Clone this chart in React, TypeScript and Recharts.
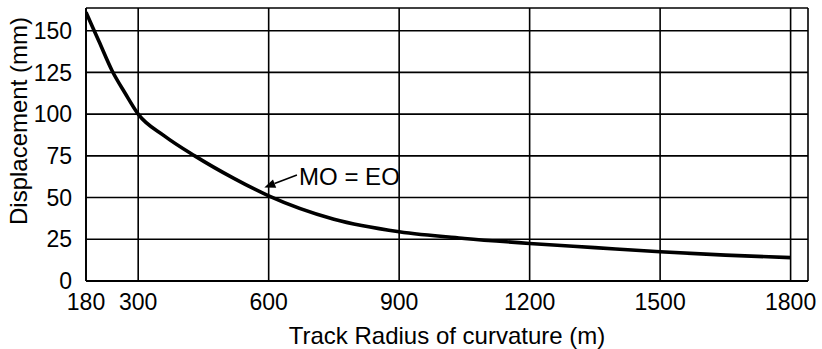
import React from 'react';
import {
  LineChart,
  Line,
  XAxis,
  YAxis,
  CartesianGrid,
  ReferenceLine,
  ReferenceDot,
} from 'recharts';

// ---- data ----
const radius = [180, 210, 240, 270, 300, 360, 430, 520, 600, 750, 900, 1050, 1200, 1350, 1500, 1650, 1800];
const displacement = [161, 143.5, 126, 112.5, 100, 87, 75, 61.5, 51, 37, 29.5, 25.5, 22.5, 20, 17.5, 15.5, 14];

const xTicks = [180, 300, 600, 900, 1200, 1500, 1800];
const yTicks = [0, 25, 50, 75, 100, 125, 150];
const xDomain = [180, 1840];
const yDomain = [0, 163.6];

const xTitle = 'Track Radius of curvature (m)';
const yTitle = 'Displacement (mm)';
const annotationText = 'MO = EO';
const arrowTail = { x: 665, y: 63.5 };
const arrowTip = { x: 590, y: 56 };
const annotationAnchor = { x: 670, y: 62.7 };

const data = radius.map((r, i) => ({ r, d: displacement[i] }));

const FONT = '"Liberation Sans", Arial, Helvetica, sans-serif';

const ArrowShape = (props: any) => {
  const { x1, y1, x2, y2 } = props;
  const dx = x2 - x1;
  const dy = y2 - y1;
  const len = Math.sqrt(dx * dx + dy * dy) || 1;
  const ux = dx / len;
  const uy = dy / len;
  const L = 11;
  const W = 4.5;
  const bx = x2 - ux * L;
  const by = y2 - uy * L;
  const nx = -uy;
  const ny = ux;
  return (
    <g>
      <line x1={x1} y1={y1} x2={bx} y2={by} stroke="#000" strokeWidth={1.6} />
      <polygon
        points={`${x2},${y2} ${bx + nx * W},${by + ny * W} ${bx - nx * W},${by - ny * W}`}
        fill="#000"
      />
    </g>
  );
};

const AnnotationText = (props: any) => (
  <text
    x={props.cx}
    y={props.cy}
    fontFamily={FONT}
    fontSize={24}
    fill="#000"
    dominantBaseline="central"
    textAnchor="start"
  >
    {annotationText}
  </text>
);

const YTitle = (props: any) => {
  const vb = props.viewBox || {};
  const cx = (vb.x ?? 0) + 18.5;
  const cy = (vb.y ?? 0) + (vb.height ?? 0) / 2 - 23.5;
  return (
    <text
      x={cx}
      y={cy}
      transform={`rotate(-90, ${cx}, ${cy})`}
      fontFamily={FONT}
      fontSize={24}
      fill="#000"
      textAnchor="middle"
      dominantBaseline="central"
    >
      {yTitle}
    </text>
  );
};

const XTitle = (props: any) => {
  const vb = props.viewBox || {};
  const cx = (vb.x ?? 0) + (vb.width ?? 0) / 2;
  const cy = (vb.y ?? 0) + 62.8;
  return (
    <text x={cx} y={cy} fontFamily={FONT} fontSize={24} fill="#000" textAnchor="middle">
      {xTitle}
    </text>
  );
};

export default function App() {
  return (
    <div style={{ position: 'fixed', left: 0, top: 0, width: 822, height: 349, background: '#fff' }}>
      <LineChart
        width={822}
        height={349}
        data={data}
        margin={{ top: 8, right: 14, bottom: 0, left: 0 }}
        style={{ fontFamily: FONT }}
      >
        <CartesianGrid stroke="#000" strokeWidth={1.6} />
        <XAxis
          dataKey="r"
          type="number"
          domain={xDomain}
          ticks={xTicks}
          interval={0}
          height={68}
          tickLine={false}
          tickSize={6}
          tickMargin={7}
          axisLine={{ stroke: '#000', strokeWidth: 1.8 }}
          tick={{ fill: '#000', fontSize: 23, fontFamily: FONT }}
          label={{ content: XTitle }}
          allowDataOverflow
        />
        <YAxis
          type="number"
          domain={yDomain}
          ticks={yTicks}
          interval={0}
          width={86}
          tickLine={false}
          tickSize={6}
          tickMargin={8}
          axisLine={{ stroke: '#000', strokeWidth: 1.8 }}
          tick={{ fill: '#000', fontSize: 23, fontFamily: FONT }}
          label={{ content: YTitle }}
          allowDataOverflow
        />
        <Line
          type="monotone"
          dataKey="d"
          stroke="#000"
          strokeWidth={3.6}
          dot={false}
          activeDot={false}
          isAnimationActive={false}
        />
        <ReferenceLine segment={[arrowTail, arrowTip]} shape={ArrowShape} />
        <ReferenceDot x={annotationAnchor.x} y={annotationAnchor.y} r={1} shape={AnnotationText} />
      </LineChart>
    </div>
  );
}
